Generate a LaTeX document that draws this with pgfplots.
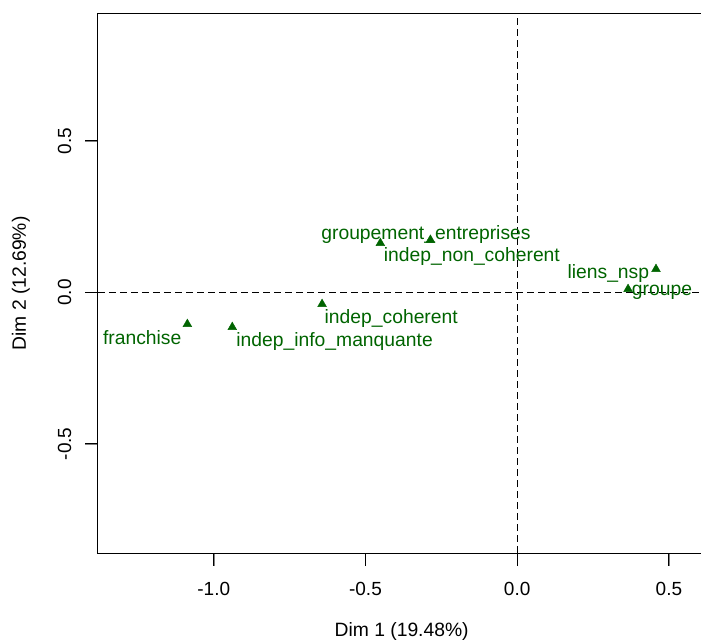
\documentclass[border=0pt]{standalone}
\usepackage{fontspec}
\setmainfont{Liberation Sans}
\usepackage{pgfplots}
\pgfplotsset{compat=1.18}
\definecolor{dgreen}{RGB}{0,100,0}
\newcommand\lab{\fontsize{19.3bp}{23bp}\selectfont}
\newcommand\tck{\fontsize{19bp}{22bp}\selectfont}
\begin{document}
\begin{tikzpicture}
\begin{axis}[name=ax, scale only axis, width=607.3bp, height=539bp,
  xmin=-1.3815, xmax=0.6200, ymin=-0.860, ymax=0.9185,
  axis line style={line width=1bp, black},
  xtick={-1,-0.5,0,0.5}, ytick={-0.5,0,0.5},
  xticklabels={-1.0,-0.5,0.0,0.5}, yticklabels={-0.5,0.0,0.5},
  tick pos=left,
  tick align=outside, major tick length=13bp,
  xticklabel style={font=\tck, inner sep=0pt, anchor=north, yshift=-16bp},
  yticklabel style={font=\tck, inner sep=0pt, rotate=90, anchor=south, yshift=13.5bp},
  xlabel={Dim 1 (19.48\%)}, ylabel={Dim 2 (12.69\%)},
  label style={font=\lab},
  xlabel style={at={(axis description cs:0.5,0)}, anchor=center, yshift=-79bp},
  ylabel style={at={(axis description cs:0,0.5)}, anchor=center, yshift=77bp},
  clip=false,
]
\addplot[black, line width=1.2bp, dash pattern=on 7bp off 4bp] coordinates {(-1.3815,0) (0.6057,0)};
\addplot[black, line width=1.2bp, dash pattern=on 7bp off 4bp] coordinates {(0,-0.860) (0,0.9185)};
\addplot[only marks, mark=triangle*, mark size=5bp, color=dgreen, mark options={fill=dgreen, draw=dgreen}] coordinates {
  (-1.087,-0.1046) (-0.939,-0.1145) (-0.643,-0.0386) (-0.451,0.1627)
  (-0.286,0.1733) (0.4575,0.0769) (0.3654,0.0109)};
\node[anchor=base east, inner sep=0pt, text=dgreen, font=\lab] at (axis cs:-1.106,-0.172) {franchise};
\node[anchor=base west, inner sep=0pt, text=dgreen, font=\lab] at (axis cs:-0.926,-0.1795) {indep\_info\_manquante};
\node[anchor=base west, inner sep=0pt, text=dgreen, font=\lab] at (axis cs:-0.635,-0.1023) {indep\_coherent};
\node[anchor=base west, inner sep=0pt, text=dgreen, font=\lab] at (axis cs:-0.646,0.176) {groupement\_entreprises};
\node[anchor=base west, inner sep=0pt, text=dgreen, font=\lab] at (axis cs:-0.440,0.101) {indep\_non\_coherent};
\node[anchor=base east, inner sep=0pt, text=dgreen, font=\lab] at (axis cs:0.4355,0.0462) {liens\_nsp};
\node[anchor=base west, inner sep=0pt, text=dgreen, font=\lab] at (axis cs:0.3776,-0.0112) {groupe};
\end{axis}
\draw[black, line width=1.2bp] ([xshift=115.76bp]ax.south west) -- ([xshift=115.76bp, yshift=-13bp]ax.south west);
\draw[black, line width=1.2bp] ([xshift=267.47bp]ax.south west) -- ([xshift=267.47bp, yshift=-13bp]ax.south west);
\draw[black, line width=1.2bp] ([xshift=419.18bp]ax.south west) -- ([xshift=419.18bp, yshift=-13bp]ax.south west);
\draw[black, line width=1.2bp] ([xshift=570.89bp]ax.south west) -- ([xshift=570.89bp, yshift=-13bp]ax.south west);
\draw[black, line width=1.2bp] ([yshift=109.1bp]ax.south west) -- ([yshift=109.1bp, xshift=-13bp]ax.south west);
\draw[black, line width=1.2bp] ([yshift=260.64bp]ax.south west) -- ([yshift=260.64bp, xshift=-13bp]ax.south west);
\draw[black, line width=1.2bp] ([yshift=412.17bp]ax.south west) -- ([yshift=412.17bp, xshift=-13bp]ax.south west);
\pgfresetboundingbox
\path[use as bounding box] ([shift={(-98bp,-90bp)}]ax.south west) rectangle ([shift={(-4.3bp,14bp)}]ax.north east);
\end{tikzpicture}
\end{document}
